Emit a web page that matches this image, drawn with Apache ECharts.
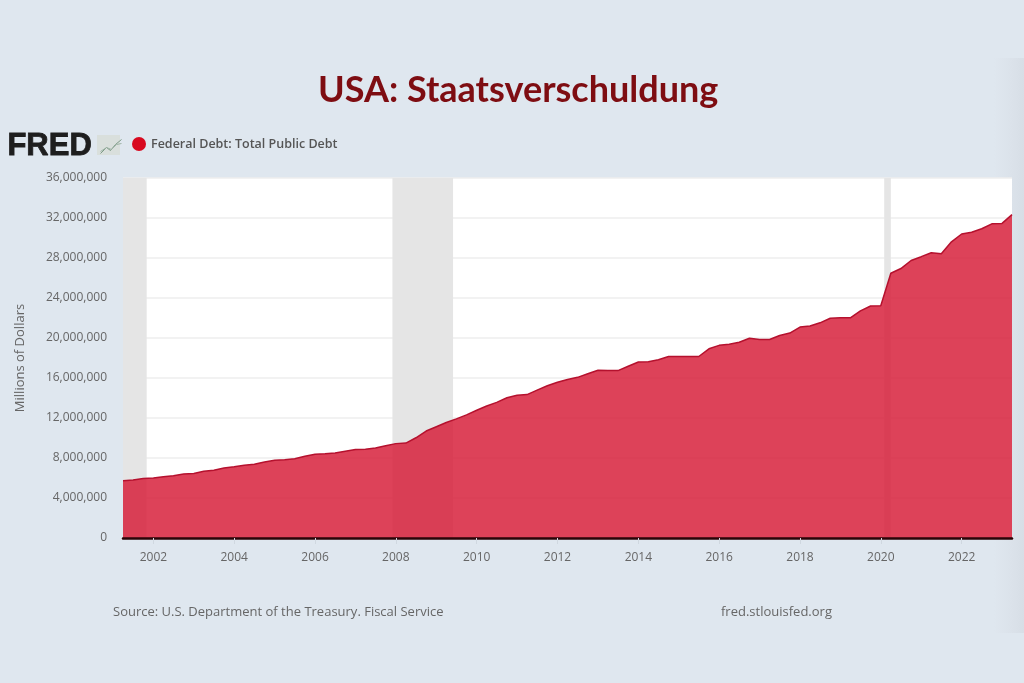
<!DOCTYPE html>
<html><head><meta charset="utf-8">
<style>html,body{margin:0;padding:0;background:#dfe7ef}#c{width:1024px;height:683px}</style>
<script src="https://cdn.jsdelivr.net/npm/echarts@6/dist/echarts.min.js"></script>
</head><body><div id="c"></div>
<script>
const titleText = 'USA: Staatsverschuldung';
const seriesName = 'Federal Debt: Total Public Debt';
const yAxisName = 'Millions of Dollars';
const sourceText = 'Source: U.S. Department of the Treasury. Fiscal Service';
const siteText = 'fred.stlouisfed.org';
const startYear = 2001, startQuarter = 1; // Q2 2001
const debtValues = [5726815,5807463,5943439,6006032,6126469,6228236,6405707,6460776,6670121,6783231,6997964,7131068,7274335,7379053,7596144,7776939,7836496,7932710,8170413,8371156,8420042,8506974,8680224,8849665,8867677,9007653,9229172,9437594,9492006,10024725,10699805,11126941,11545275,11909829,12311350,12773123,13201790,13561623,14025215,14270720,14343087,14790340,15222940,15582079,15855519,16066241,16432730,16771600,16738184,16738184,17180000,17601227,17632606,17824071,18141444,18152056,18152560,18152560,18922179,19264939,19381304,19573445,19976827,19846273,19844554,20244900,20492764,21089643,21195070,21516058,21974096,22027880,22023283,22719402,23201380,23223813,26477233,26945391,27747798,28132570,28529436,28428919,29617215,30400960,30568582,30928912,31419689,31458438,32332274];
const recessions = [['2001-04-01','2001-11-01'],['2007-12-01','2009-06-01'],['2020-02-01','2020-04-01']];
const tickYears = [2002,2004,2006,2008,2010,2012,2014,2016,2018,2020,2022];
const axisMin = '2001-04-01', axisMax = '2023-04-01';

const ms = s => Date.parse(s + 'T00:00:00Z');
const data = debtValues.map((v,i)=>{
  const q = startQuarter + i;
  const y = startYear + Math.floor(q/4), m = (q%4)*3;
  return [Date.UTC(y,m,1), v];
});
const tickTimes = tickYears.map(y=>Date.UTC(y,0,1));
const font = '"Open Sans"';
const chart = echarts.init(document.getElementById('c'), null, {renderer:'canvas'});
chart.setOption({
  animation:false,
  backgroundColor:'#dfe7ef',
  title:{text:titleText,left:313,top:67,textStyle:{fontFamily:'Lato',fontWeight:'bold',fontSize:36,color:'#7e0d12'}},
  legend:{left:132,top:137,itemWidth:14,itemHeight:14,itemGap:7,padding:0,
    data:[{name:seriesName,icon:'circle',itemStyle:{color:'#d8091f',borderWidth:0}}],
    textStyle:{fontFamily:font,fontSize:12.5,color:'#555',fontWeight:600}},
  grid:{left:123,right:12,top:178,bottom:145,show:true,backgroundColor:'#fff',borderWidth:0},
  xAxis:{type:'value',min:ms(axisMin),max:ms(axisMax),z:5,
    axisLine:{show:true,onZero:false,lineStyle:{color:'#2a0508',width:2.5}},
    axisTick:{show:true,length:6,customValues:tickTimes,lineStyle:{color:'#d0d8e0'}},
    splitLine:{show:false},
    axisLabel:{fontFamily:font,fontSize:12,color:'#666',margin:14,customValues:tickTimes,
      formatter:v=>String(new Date(v).getUTCFullYear())}},
  yAxis:{type:'value',min:0,max:36000000,interval:4000000,
    name:yAxisName,nameLocation:'middle',nameGap:96,nameRotate:90,
    nameTextStyle:{fontFamily:font,fontSize:13,color:'#666'},
    axisLine:{show:false},axisTick:{show:false},
    splitLine:{lineStyle:{color:'#eeeeee',width:1.5}},
    axisLabel:{fontFamily:font,fontSize:12,color:'#666',margin:16,
      formatter:v=>v.toLocaleString('en-US')}},
  series:[
    {name:'Recessions',type:'line',data:[],z:1,silent:true,
      markArea:{silent:true,itemStyle:{color:'#e5e5e5'},
        data:recessions.map(r=>[{xAxis:ms(r[0])},{xAxis:ms(r[1])}])}},
    {name:seriesName,type:'line',data:data,z:3,showSymbol:false,smooth:false,
      lineStyle:{color:'#b5112e',width:1.5},
      itemStyle:{color:'#d8091f'},
      areaStyle:{color:'#d7213c',opacity:0.85}}
  ],
  graphic:[
    {type:'rect',z:-1,left:994,top:58,shape:{width:30,height:575},
      style:{fill:new echarts.graphic.LinearGradient(0,0,1,0,[{offset:0,color:'#dfe7ef'},{offset:0.6,color:'#dbe2ea'},{offset:1,color:'#d7dee6'}])}},
    {type:'text',left:7,top:131,style:{text:'FRED',fontFamily:'Liberation Sans',fontWeight:'bold',fontSize:31,fill:'#1e1e1e',stroke:'#1e1e1e',lineWidth:0.8}},
    {type:'text',left:113,top:606,style:{text:sourceText,fontFamily:font,fontSize:13,fill:'#666'}},
    {type:'text',left:721,top:606,style:{text:siteText,fontFamily:font,fontSize:13,fill:'#666'}},
    {type:'rect',left:97,top:135,shape:{width:23,height:20},style:{fill:'#d9dfdc'}},
    {type:'polyline',left:98,top:137,shape:{points:[[0,14],[6,8],[10,11],[15,5],[21,0]]},style:{fill:'none',stroke:'#7d9a86',lineWidth:1}},
    {type:'polyline',left:98,top:141,shape:{points:[[0,10],[6,6],[11,8],[16,3],[21,2]]},style:{fill:'none',stroke:'#9db3a5',lineWidth:1}}
  ]
});
</script></body></html>
